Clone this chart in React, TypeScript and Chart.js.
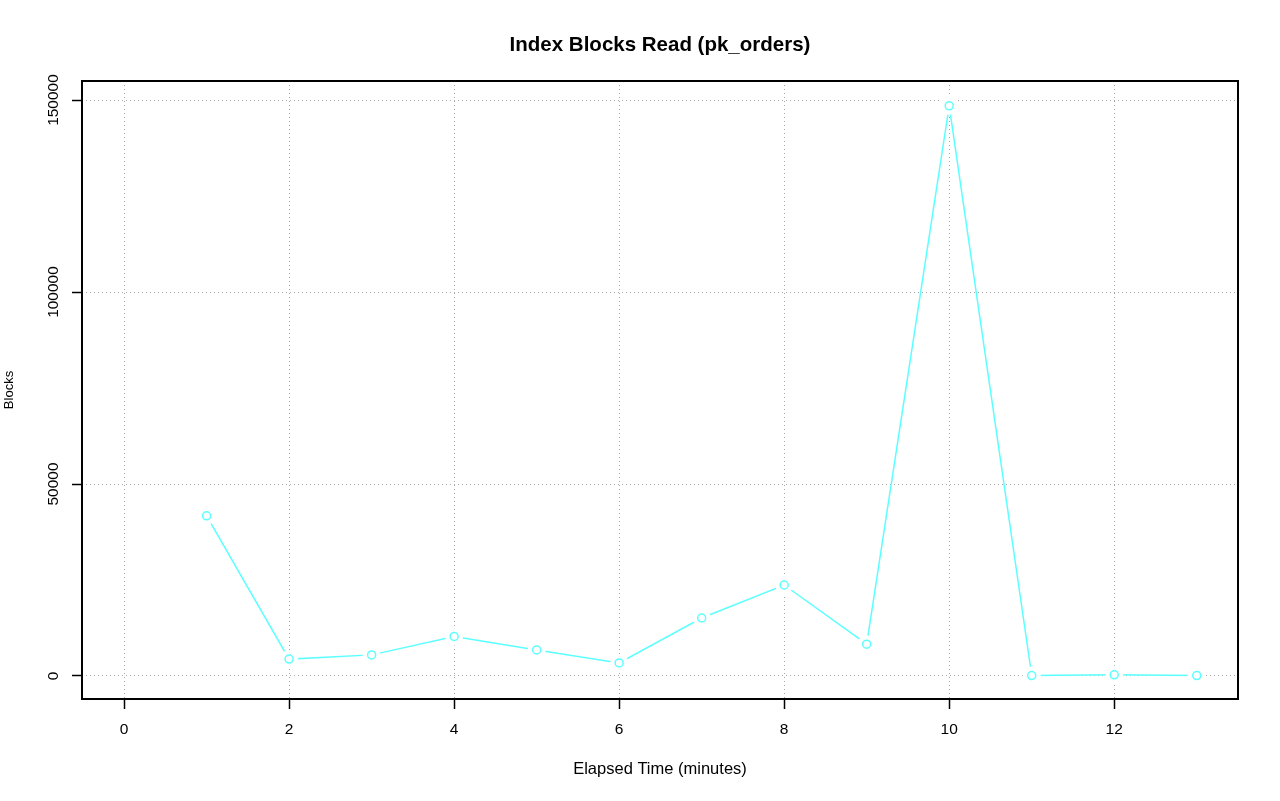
import React, { useEffect, useRef } from "react";
import { Chart, registerables } from "chart.js";

Chart.register(...registerables);

const elapsedMinutes = [1, 2, 3, 4, 5, 6, 7, 8, 9, 10, 11, 12, 13];
const blocksRead = [41700, 4400, 5500, 10300, 6800, 3400, 15100, 23700, 8300, 148500, 100, 300, 100];
const xTicks = [0, 2, 4, 6, 8, 10, 12];
const yTicks = [0, 50000, 100000, 150000];
const yTickLabels = ["0", "50000", "100000", "150000"];
const titleText = "Index Blocks Read (pk_orders)";
const xTitleText = "Elapsed Time (minutes)";
const yTitleText = "Blocks";

const FONT = "'Liberation Sans', Arial, Helvetica, sans-serif";
const LINE_COLOR = "#5cffff";

const framePlugin = {
  id: "frame",
  afterDraw(chart: any) {
    const { ctx, chartArea: a, scales } = chart;
    ctx.save();
    ctx.strokeStyle = "#000";
    ctx.lineWidth = 2;
    ctx.setLineDash([]);
    ctx.strokeRect(a.left, a.top, a.right - a.left, a.bottom - a.top);
    ctx.fillStyle = "#000";
    ctx.font = `15.5px ${FONT}`;
    ctx.textAlign = "center";
    ctx.textBaseline = "middle";
    yTicks.forEach((v, i) => {
      const py = scales.y.getPixelForValue(v);
      ctx.save();
      ctx.translate(54, py);
      ctx.rotate(-Math.PI / 2);
      ctx.fillText(yTickLabels[i], 0, 0);
      ctx.restore();
    });
    ctx.restore();
  },
};

export default function App() {
  const ref = useRef<HTMLCanvasElement | null>(null);

  useEffect(() => {
    if (!ref.current) return;
    const pts = elapsedMinutes.map((x, i) => ({ x, y: blocksRead[i] }));
    const chart = new Chart(ref.current, {
      type: "line",
      data: {
        datasets: [
          {
            label: "points",
            data: pts,
            showLine: false,
            pointRadius: 4,
            pointBorderWidth: 1.5,
            pointBorderColor: LINE_COLOR,
            pointBackgroundColor: "rgba(255,255,255,0)",
            borderColor: LINE_COLOR,
          },
          {
            label: "line",
            data: pts,
            borderColor: LINE_COLOR,
            borderWidth: 1.5,
            tension: 0,
            fill: false,
            pointRadius: 9,
            pointBorderWidth: 0,
            pointBorderColor: "#fff",
            pointBackgroundColor: "#fff",
          },
        ],
      },
      options: {
        animation: false,
        responsive: false,
        devicePixelRatio: 1,
        events: [],
        layout: { padding: { left: 0, right: 42, top: 0, bottom: 0 } },
        plugins: {
          legend: { display: false },
          tooltip: { enabled: false },
          title: {
            display: true,
            fullSize: false,
            text: titleText,
            color: "#000",
            font: { family: FONT, size: 20.5, weight: "bold" },
            padding: { top: 32.7, bottom: 23.7 },
          },
        },
        scales: {
          x: {
            type: "linear",
            position: "bottom",
            min: -0.51,
            max: 13.5,
            z: 1,
            afterBuildTicks: (s: any) => {
              s.ticks = xTicks.map((v) => ({ value: v }));
            },
            afterFit: (s: any) => {
              s.height = 102;
            },
            grid: {
              color: "#a8a8a8",
              lineWidth: 1,
              drawTicks: true,
              tickLength: 10,
              tickColor: "#000",
              tickWidth: 1.5,
              tickBorderDash: [],
            },
            border: { display: false, dash: [1, 3] },
            ticks: {
              color: "#000",
              font: { family: FONT, size: 15.5 },
              padding: 11.2,
              maxRotation: 0,
              minRotation: 0,
              autoSkip: false,
            },
            title: {
              display: true,
              text: xTitleText,
              color: "#000",
              font: { family: FONT, size: 16.5 },
              padding: { top: 0, bottom: 21.5 },
            },
          },
          y: {
            type: "linear",
            position: "left",
            min: -5990,
            max: 154950,
            z: 1,
            afterBuildTicks: (s: any) => {
              s.ticks = yTicks.map((v) => ({ value: v }));
            },
            afterFit: (s: any) => {
              s.width = 82;
            },
            grid: {
              color: "#a8a8a8",
              lineWidth: 1,
              drawTicks: true,
              tickLength: 10,
              tickColor: "#000",
              tickWidth: 1.5,
              tickBorderDash: [],
            },
            border: { display: false, dash: [1, 3] },
            ticks: { display: false },
            title: {
              display: true,
              text: yTitleText,
              color: "#000",
              font: { family: FONT, size: 13 },
              padding: { top: 2, bottom: 0 },
            },
          },
        },
      },
      plugins: [framePlugin],
    } as any);
    return () => chart.destroy();
  }, []);

  return (
    <div style={{ position: "fixed", left: 0, top: 0, width: 1280, height: 801, background: "#fff" }}>
      <canvas ref={ref} width={1280} height={801} style={{ width: 1280, height: 801, display: "block" }} />
    </div>
  );
}
